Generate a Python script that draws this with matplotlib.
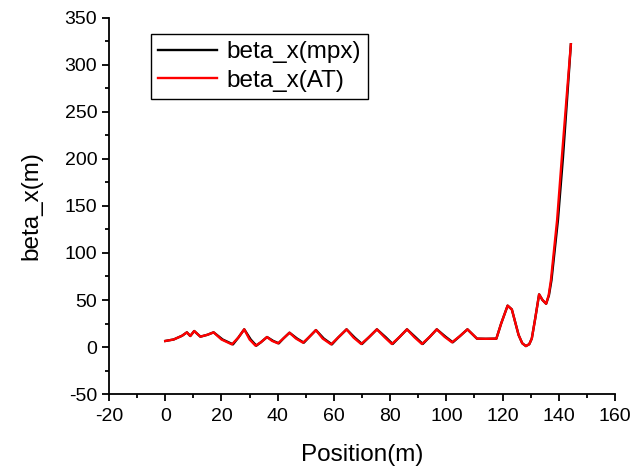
import matplotlib.pyplot as plt
from matplotlib.ticker import MultipleLocator

plt.rcParams['font.family'] = ['Liberation Sans', 'DejaVu Sans']
plt.rcParams['axes.unicode_minus'] = False

# --- beta_x from AT (red) ---
pos_at = [0, 3, 6, 7.7, 8.9, 10.3, 12.5, 15, 17.2, 20, 23.7, 26, 28.1, 30, 32.1,
          34, 36.2, 38, 40.1, 42, 44.2, 46.5, 49, 51, 53.6, 56, 59, 61.5, 64.5,
          67, 69.7, 72.5, 75.3, 78, 80.6, 83.3, 86, 88.6, 91.3, 94, 96.6, 99.3,
          102, 104.8, 107.5, 110.9, 114, 117.8, 119.5, 121.8, 123.3, 125.7, 127,
          128.3, 129.5, 130.4, 131.6, 133, 134.2, 135.5, 136.4, 137.2, 139.4,
          141.1, 142.9, 144.3]
beta_at = [6.4, 8, 12, 15.6, 11.7, 17, 11, 13, 15.6, 8, 2.8, 10, 18.8, 8, 1.4,
           5, 10.6, 6.5, 3.9, 9, 15.2, 9, 4.6, 10, 18, 9, 2.8, 10, 18.8,
           10, 3.2, 10.5, 18.8, 10.5, 3.2, 10.5, 18.8, 10.5, 3.2, 10.5, 18.8, 11,
           5, 11.5, 18.8, 8.9, 8.7, 8.9, 25, 44, 40, 12.8, 4,
           1, 3, 9, 30, 56, 50, 46, 55, 71, 135,
           202, 270, 322]

# --- beta_x from mpx (black) ---
pos_mpx = [0, 3, 6, 7.7, 8.9, 10.3, 12.5, 15, 17.2, 20.4, 24.1, 26, 28.1, 30.4, 32.4,
           34, 36.2, 38.4, 40.4, 42, 44.2, 46.9, 49.3, 51, 53.6, 56.4, 59.3, 61.5, 64.5,
           67.4, 70, 72.5, 75.3, 78.4, 80.9, 83.3, 86, 89, 91.6, 94, 96.6, 99.7,
           102.3, 104.8, 107.5, 110.9, 114, 117.8, 119.5, 121.8, 123.3, 125.7, 127,
           128.3, 129.5, 130.4, 131.6, 133, 134.2, 135.5, 136.5, 137.4, 139.7,
           141.5, 143.1, 144.3]
beta_mpx = [6.4, 8, 12, 15.6, 11.7, 17, 11, 13, 15.6, 8, 2.8, 10, 18.8, 8, 1.4,
            5, 10.6, 6.5, 3.9, 9, 15.2, 9, 4.6, 10, 18, 9, 2.8, 10, 18.8,
            10, 3.2, 10.5, 18.8, 10.5, 3.2, 10.5, 18.8, 10.5, 3.2, 10.5, 18.8, 11,
            5, 11.5, 18.8, 8.9, 8.7, 8.9, 25, 44, 40, 12.8, 4,
            1, 3, 9, 30, 56, 50, 46, 55, 71, 135,
            202, 270, 322]

fig = plt.figure(figsize=(6.35, 4.67), dpi=100)
ax = fig.add_axes([0.1717, 0.1563, 0.7968, 0.8052])

ax.plot(pos_mpx, beta_mpx, color='black', lw=1.7, label='beta_x(mpx)')
ax.plot(pos_at, beta_at, color='red', lw=1.7, label='beta_x(AT)')

ax.set_xlim(-20, 160)
ax.set_ylim(-50, 350)
ax.xaxis.set_major_locator(MultipleLocator(20))
ax.xaxis.set_minor_locator(MultipleLocator(10))
ax.yaxis.set_major_locator(MultipleLocator(50))
ax.yaxis.set_minor_locator(MultipleLocator(25))

ax.spines['top'].set_visible(False)
ax.spines['right'].set_visible(False)
for s in ('left', 'bottom'):
    ax.spines[s].set_linewidth(1.3)
ax.tick_params(which='major', direction='out', length=5, width=1.3, labelsize=14)
ax.tick_params(axis='x', which='major', pad=5)
ax.tick_params(which='minor', direction='out', length=3, width=1.3)

ax.set_xlabel('Position(m)', fontsize=17.5, labelpad=14)
ax.set_ylabel('beta_x(m)', fontsize=17.5, labelpad=16)

leg = ax.legend(loc='upper left', bbox_to_anchor=(0.083, 0.957), fontsize=17.5,
                frameon=True, fancybox=False, edgecolor='black', framealpha=1,
                borderpad=0.3, labelspacing=0.25, handlelength=2.4, handletextpad=0.4,
                borderaxespad=0)
leg.get_frame().set_linewidth(1.0)

fig.savefig('out.png', dpi=100)
